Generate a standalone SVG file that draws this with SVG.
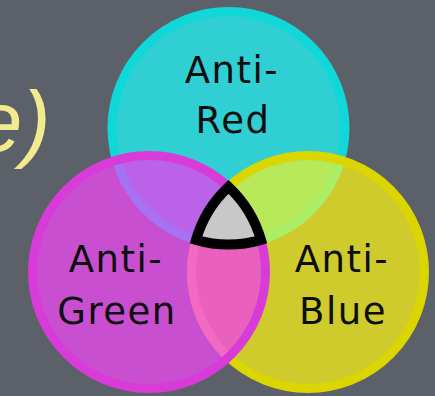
<svg xmlns="http://www.w3.org/2000/svg" width="435" height="396" viewBox="0 0 435 396">
  <style>
    .lbl { font-family: "DejaVu Sans", Verdana, sans-serif; font-size: 37px; fill: #0e0e0e; text-anchor: middle; letter-spacing: 1.5px; }
    .ring { stroke-width: 9; }
    .band { fill: none; stroke-width: 9; }
  </style>
  <defs>
    <clipPath id="yInner"><circle cx="308" cy="272" r="112"/></clipPath>
    <clipPath id="mInner"><circle cx="149" cy="272" r="112"/></clipPath>
  </defs>
  <rect width="435" height="396" fill="#5c6068"/>
  <text x="-25" y="151" font-family="Liberation Sans, sans-serif" font-style="italic" font-size="85" fill="#f3e98f">e)</text>

  <g id="anti-red">
    <circle cx="228.5" cy="128" r="116.5" fill="#2fcfd4" stroke="#10d8d9" class="ring"/>
  </g>
  <g id="anti-blue">
    <circle cx="308" cy="272" r="116.5" fill="#cfcb2d" stroke="#dcd600" class="ring"/>
  </g>
  <g id="overlap-red-blue" clip-path="url(#yInner)">
    <circle cx="228.5" cy="128" r="121" fill="#b8e95b"/>
    <circle cx="228.5" cy="128" r="116.5" stroke="#a9ee64" class="band"/>
  </g>
  <g id="anti-green">
    <circle cx="149" cy="272" r="116.5" fill="#c84fcf" stroke="#d93bd9" class="ring"/>
  </g>
  <g id="overlap-red-green" clip-path="url(#mInner)">
    <circle cx="228.5" cy="128" r="121" fill="#ba62e8"/>
    <circle cx="228.5" cy="128" r="116.5" stroke="#a671f2" class="band"/>
  </g>
  <g id="overlap-green-blue" clip-path="url(#mInner)">
    <circle cx="308" cy="272" r="121" fill="#ea60bd"/>
    <circle cx="308" cy="272" r="116.5" stroke="#f36ac2" class="band"/>
  </g>
  <g id="center">
    <path d="M228.5,186.84 A116.5,116.5 0 0 0 196.02,239.88 A116.5,116.5 0 0 0 260.98,239.88 A116.5,116.5 0 0 0 228.5,186.84 Z" fill="#c8c8c8" stroke="#000" stroke-width="10" stroke-linejoin="miter"/>
  </g>

  <g id="label-red">
    <text class="lbl" x="232" y="83">Anti-</text>
    <text class="lbl" x="233" y="133">Red</text>
  </g>
  <g id="label-green">
    <text class="lbl" x="116" y="272">Anti-</text>
    <text class="lbl" x="117" y="324">Green</text>
  </g>
  <g id="label-blue">
    <text class="lbl" x="342" y="272">Anti-</text>
    <text class="lbl" x="343" y="324">Blue</text>
  </g>
</svg>
